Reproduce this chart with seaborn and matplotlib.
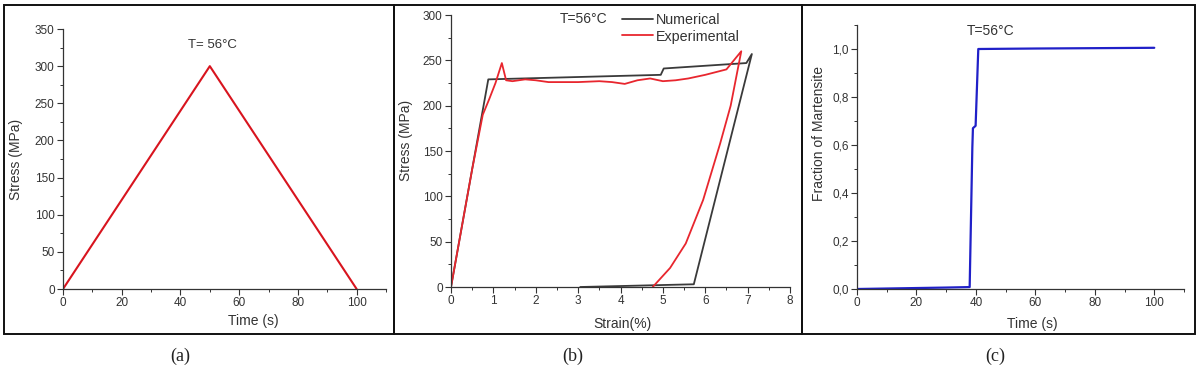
import numpy as np
import pandas as pd
import matplotlib
matplotlib.use("Agg")
import matplotlib.pyplot as plt
from matplotlib.ticker import MultipleLocator, FuncFormatter
import seaborn as sns

# data
load_time = [0, 50, 100]
load_stress = [0, 300, 0]

num_strain = [0, 0.88, 4.95, 5.02, 6.97, 7.1, 5.73, 3.05]
num_stress = [0, 229, 234, 241, 247, 257, 3, 0]

exp_strain = [0, 0.5, 0.75, 0.9, 1.05, 1.2, 1.3, 1.45, 1.6, 1.75, 2.0, 2.3, 2.7, 3.0, 3.5,
              3.8, 4.1, 4.4, 4.7, 5.0, 5.3, 5.6, 6.0, 6.5, 6.85, 6.6, 6.35, 5.95, 5.54, 5.17, 4.76]
exp_stress = [0, 130, 190, 207, 225, 247, 228, 227, 228, 229, 228, 226, 226, 226, 227,
              226, 224, 228, 230, 227, 228, 230, 234, 240, 260, 200, 158, 96, 48, 21, 0]

frac_time = [0, 10, 20, 30, 37.9, 38.8, 39.0, 39.9, 40.8, 60, 100]
frac_value = [0, 0.002, 0.004, 0.006, 0.008, 0.59, 0.67, 0.68, 1.0, 1.002, 1.005]

sns.set_style("ticks")
plt.rcParams['font.family'] = ['Liberation Sans', 'DejaVu Sans']

W, H = 1200, 371
fig = plt.figure(figsize=(12, 3.71), dpi=100)


def px_axes(l, r, b, t):
    return fig.add_axes([l / W, 1 - b / H, (r - l) / W, (b - t) / H])


def style_axes(ax, xmaj, xmin, ymaj, ymin):
    sns.despine(ax=ax)
    for s in ["left", "bottom"]:
        ax.spines[s].set_color("#333333")
        ax.spines[s].set_linewidth(0.9)
    ax.xaxis.set_major_locator(MultipleLocator(xmaj))
    ax.xaxis.set_minor_locator(MultipleLocator(xmin))
    ax.yaxis.set_major_locator(MultipleLocator(ymaj))
    ax.yaxis.set_minor_locator(MultipleLocator(ymin))
    ax.tick_params(which="major", direction="out", length=4, width=0.8,
                   colors="#333333", labelsize=8.5, pad=2)
    ax.tick_params(which="minor", direction="out", length=2.5, width=0.7, colors="#333333")


# (a) stress vs time
ax1 = px_axes(63, 386, 289, 29)
sns.lineplot(x=load_time, y=load_stress, ax=ax1, color="#d8141e", linewidth=1.5)
ax1.set_xlim(0, 110)
ax1.set_ylim(0, 350)
style_axes(ax1, 20, 10, 50, 25)
ax1.set_xticks([0, 20, 40, 60, 80, 100])
ax1.set_xlabel("Time (s)", fontsize=10, color="#333333")
ax1.set_ylabel("Stress (MPa)", fontsize=10, color="#333333")
ax1.xaxis.set_label_coords(0.59, -0.096)
ax1.yaxis.set_label_coords(-0.124, 0.5)
ax1.text(51, 328, "T= 56°C", ha="center", va="center", fontsize=9.5, color="#333333")

# (b) stress vs strain
ax2 = px_axes(451, 790, 287, 15)
sns.lineplot(x=num_strain, y=num_stress, ax=ax2, sort=False, estimator=None,
             color="#3a3a3a", linewidth=1.3, label="Numerical")
sns.lineplot(x=exp_strain, y=exp_stress, ax=ax2, sort=False, estimator=None,
             color="#e8262e", linewidth=1.3, label="Experimental")
ax2.set_xlim(0, 8)
ax2.set_ylim(0, 300)
style_axes(ax2, 1, 0.5, 50, 25)
ax2.set_xlabel("Strain(%)", fontsize=10, color="#333333")
ax2.set_ylabel("Stress (MPa)", fontsize=10, color="#333333")
ax2.xaxis.set_label_coords(0.507, -0.11)
ax2.yaxis.set_label_coords(-0.112, 0.54)
leg = ax2.legend(loc="upper left", bbox_to_anchor=(0.465, 1.056), frameon=False,
                 fontsize=10.3, handlelength=2.2, handletextpad=0.2, labelspacing=0.2)
for t in leg.get_texts():
    t.set_color("#333333")
ax2.text(0.39, 0.985, "T=56°C", transform=ax2.transAxes, ha="center", va="center",
         fontsize=10, color="#333333")

# (c) martensite fraction vs time
ax3 = px_axes(857, 1184, 289, 25)
sns.lineplot(x=frac_time, y=frac_value, ax=ax3, sort=False, estimator=None,
             color="#2020c8", linewidth=1.6)
ax3.set_xlim(0, 110)
ax3.set_ylim(0, 1.1)
style_axes(ax3, 20, 10, 0.2, 0.1)
ax3.set_xticks([0, 20, 40, 60, 80, 100])
ax3.yaxis.set_major_formatter(FuncFormatter(lambda v, p: f"{v:.1f}".replace(".", ",")))
ax3.set_xlabel("Time (s)", fontsize=10, color="#333333")
ax3.set_ylabel("Fraction of Martensite", fontsize=10, color="#333333")
ax3.xaxis.set_label_coords(0.535, -0.106)
ax3.yaxis.set_label_coords(-0.095, 0.59)
ax3.text(45, 1.075, "T=56°C", ha="center", va="center", fontsize=10, color="#333333")

# panel frames
for l, r in [(4, 394), (394, 802), (802, 1195)]:
    fig.add_artist(plt.Rectangle((l / W, 1 - 334 / H), (r - l) / W, 329 / H,
                                 transform=fig.transFigure, fill=False,
                                 edgecolor="#111111", linewidth=1.4))

# sub-captions
for x, lab in [(180, "(a)"), (573, "(b)"), (995, "(c)")]:
    fig.text(x / W, 1 - 356 / H, lab, ha="center", va="center", fontsize=13,
             family=["Liberation Serif", "DejaVu Serif"], color="#222222")

fig.savefig("out.png", dpi=100)
